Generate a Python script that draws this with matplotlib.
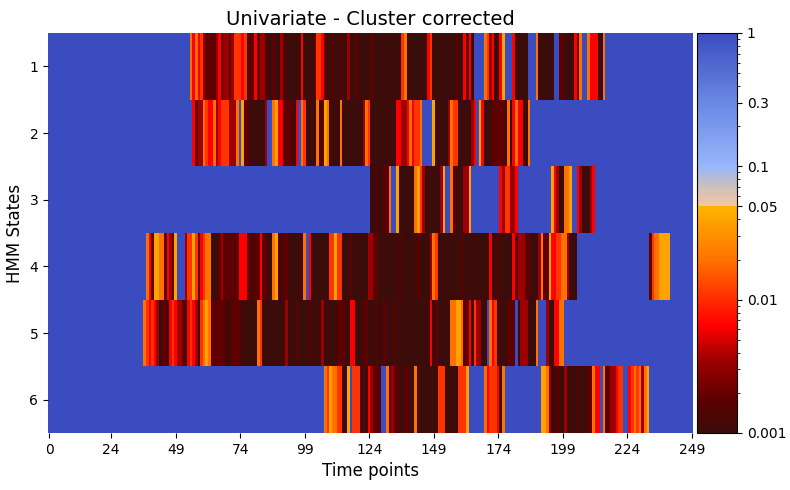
import numpy as np
import matplotlib
matplotlib.use("Agg")
import matplotlib.pyplot as plt
from matplotlib.colors import LinearSegmentedColormap, LogNorm
from matplotlib import ticker

# ---------------- data ----------------
n_time = 250
states = ["1", "2", "3", "4", "5", "6"]

# p-value levels (code -> p-value); cells not listed are p = 1
levels = {"D": 0.001, "M": 0.0018, "R": 0.0035, "r": 0.0065,
          "o": 0.011, "O": 0.02, "A": 0.04}

# each row: (first time point, per-time-point codes)
state1 = [(55, "OrOroR"), (61, "MMMM"), (65, "RrMRRMR"), (72, "oooroD"),
          (78, "MMrMRRM"), (85, "DDMDD"), (90, "RMDD"), (94, "DDDDr"),
          (99, "DDDDMoorM"), (108, "DDMDDMDDRDDM"), (120, "DDDDDM"),
          (126, "DDDDDDDDDDD"), (137, "oO"), (139, "DDDDDDDD"), (147, "ro"),
          (149, "DDDDDDDDD"), (158, "MDDrMrD"), (169, "OoRrDDrA"),
          (180, "rDDDDD"), (189, "ODDDDDD"), (198, "MMDDDDrMO"),
          (209, "OrrrDDO")]
state2 = [(56, "rMRROorrORr"), (67, "oooRRRO"), (75, "AMMDDDDDDR"),
          (87, "OArrMMMMDr"), (98, "OoDDDDODMAODDDDO"), (114, "DDDDDDDDROoD"),
          (126, "DDDDDDDDD"), (135, "rrRRrOrooO"), (149, "ADDDDDROooDDDDDRr"),
          (167, "ArDDDMMMMMDODrOrrDDO")]
state3 = [(125, "DDMDDMMO"), (135, "ADDDDDDOAoRDDDDDDRA"), (156, "OMDDDRRA"),
          (175, "rRooRRr"), (195, "ArRDDOOA"), (205, "rRDDDRr")]
state4 = [(38, "OrMAAOOMrRMA"), (53, "RooAoMroOODDDMRMMMMMMrrrMMDMMrMM"),
          (85, "DDOAMDMMDDDDDDO"), (101, "rDDDDDDDooAoo"), (114, "DDDMDDDDDDRRMM"),
          (128, "DDDDDDDDMDDDDDDMDDDDROo"), (151, "DDDDDDDDDM"),
          (161, "DDDDDDDDDDrDDM"), (175, "DDDDDrMRRRMMDDD"),
          (190, "ROMMArrooOORDDD"), (233, "MoOOAAAA")]
state5 = [(37, "OororR"), (43, "DMMDrorRRMDrorRDoOAO"),
          (63, "MMMMMMDDMMMMDDDDDDOoDDD"), (86, "DDDDDD"),
          (92, "RDDDMDDDDMDDDDR"), (107, "DDDDDMMMDDrrDDDMMDDD"),
          (127, "MDDMDDDM"), (135, "DDDDDDDDDDDDD"), (148, "rDMDDDDD"),
          (156, "OOAAOMMrDo"), (166, "RRDD"), (171, "OroDDDDMMM"),
          (182, "DRRRDDDO"), (193, "RDDrrOO")]
state6 = [(107, "OoAOOooDDA"), (118, "oooDMDrR"), (126, "MMM"),
          (131, "OMRMMDDMMDDO"), (143, "DDDDDDDDoooDDDDDoooA"),
          (169, "OrooorDO"), (191, "AAORDDMDDRDDDDMDDDMMOrr"),
          (215, "OMMRRroo"), (225, "roOoOROA")]

rows = [state1, state2, state3, state4, state5, state6]

xtick_pos = [0, 24, 49, 74, 99, 124, 149, 174, 199, 224, 249]
xtick_labels = [str(v) for v in xtick_pos]
cbar_ticks = [0.001, 0.01, 0.05, 0.1, 0.3, 1]
cbar_labels = ["0.001", "0.01", "0.05", "0.1", "0.3", "1"]

# ---------------- build matrix ----------------
pvals = np.ones((len(rows), n_time))
for i, row in enumerate(rows):
    for start, codes in row:
        for k, c in enumerate(codes):
            pvals[i, start + k] = levels[c]

# ---------------- colormap ----------------
t05 = (3 + np.log10(0.05)) / 3
stops = [(0.0, "#3c0c0a"), (0.08, "#5c0000"), (0.18, "#9c0000"),
         (0.27, "#ff0000"), (0.34, "#ff3000"), (0.43, "#ff7000"),
         (t05, "#ffb400"), (t05 + 1e-4, "#f4c8a0"), (0.62, "#c9bfbf"),
         (0.667, "#98b6fb"), (0.826, "#6a88e2"), (1.0, "#3b4cc0")]
cmap = LinearSegmentedColormap.from_list("pcmap", stops, N=1024)

fig = plt.figure(figsize=(7.9, 4.9), dpi=100)
ax = fig.add_axes([48 / 790, 57 / 490, 645 / 790, 400 / 490])
cax = fig.add_axes([697 / 790, 57 / 490, 40 / 790, 400 / 490])

im = ax.imshow(pvals, aspect="auto", cmap=cmap, norm=LogNorm(vmin=1e-3, vmax=1),
               interpolation="nearest")
for s in ax.spines.values():
    s.set_visible(False)
ax.set_yticks(np.arange(len(states)))
ax.set_yticklabels(states, fontsize=10)
ax.set_xticks(xtick_pos)
ax.set_xticklabels(xtick_labels, fontsize=10)
ax.set_xlabel("Time points", fontsize=12)
ax.set_ylabel("HMM States", fontsize=12)
ax.set_title("Univariate - Cluster corrected", fontsize=14)

cbar = fig.colorbar(im, cax=cax)
cbar.set_ticks(cbar_ticks)
cbar.set_ticklabels(cbar_labels)
cbar.ax.yaxis.set_minor_locator(ticker.LogLocator(base=10, subs=np.arange(2, 10), numticks=12))
cbar.ax.yaxis.set_minor_formatter(ticker.NullFormatter())
cbar.ax.tick_params(labelsize=10)

fig.savefig("out.png", dpi=100)
